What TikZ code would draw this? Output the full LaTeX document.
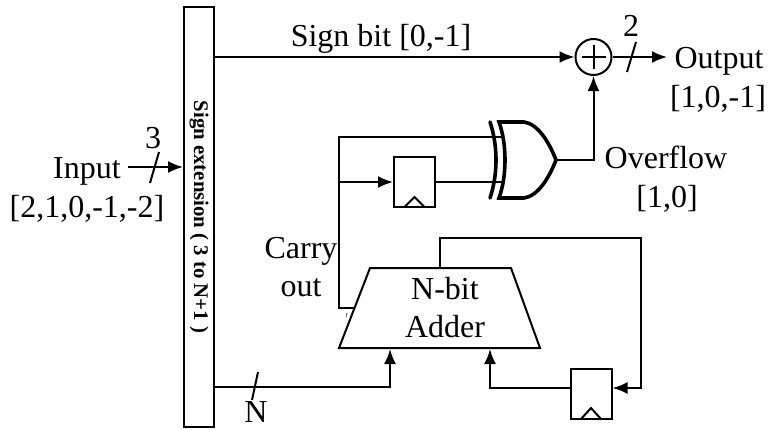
\documentclass[tikz,border=0pt]{standalone}
\usepackage{fontspec}
\setmainfont{Liberation Serif}
\usepackage{tikz}
\usetikzlibrary{arrows.meta}
\usetikzlibrary{calc}
\usetikzlibrary{positioning}

\begin{document}
\begin{tikzpicture}[
	x=1pt, y=-1pt, line width=2pt,
	every node/.style={font=\fontsize{32}{32}\selectfont, inner sep=0pt},
	txt/.style = {anchor=base},
  > = {Latex[length=15pt,width=12pt]},
  reg/.style = {draw,rectangle,minimum width=41pt,minimum height=50pt},
  sum/.style = {draw,circle,minimum size=36pt},
  thick gate/.style = {line width=3.6pt},
  slash/.style = {line width=2pt}
  ]
	\useasboundingbox (0,0) rectangle (770,429);

	\node[draw,minimum width=30pt,minimum height=420pt] (@bar) at (199,217) {};
	\node[rotate=-90,font=\fontsize{20.8}{20.8}\selectfont\bfseries] (@ext) at (199,217) {Sign extension ( 3 to N+1 )};

	\node[sum] (@sum) at (593.5,57) {};
	\draw ($(@sum.center)+(-12,0)$) -- ($(@sum.center)+(12,0)$);
	\draw ($(@sum.center)+(0,-12)$) -- ($(@sum.center)+(0,12)$);

	\node[reg] (@regA) at (414.5,182) {};
	\draw (404.5,207) -- (414.5,197) -- (424.5,207);
	\node[reg] (@regB) at (591,393.5) {};
	\draw (581,419) -- (591,408) -- (601,419);

	% input side
	\node[txt] (@input) at (87,178) {Input};
	\node[txt] (@inrange) at (87,217) {[2,1,0,-1,-2]};
	\node[txt] (@three) at (153,148) {3};
	\coordinate (@instart) at (128,167);
	\draw[->] (@instart) -- (@instart -| @bar.west);
	\draw[slash] (159,152) -- (150,183);

	% sign bit
	\coordinate (@signout) at (@bar.east |- @sum.west);
	\node[txt] (@signbit) at (381,46) {Sign bit [0,-1]};
	\draw[->] (@signout) -- (@sum.west);

	% output
	\coordinate (@outend) at (667,57);
	\node[txt] (@output) at (719,68) {Output};
	\node[txt] (@outrange) at (718,107) {[1,0,-1]};
	\node[txt] (@two) at (631,36) {2};
	\draw[->] (@sum.east) -- (@outend);
	\draw[slash] (636,42) -- (627,72);

	% xor
	\coordinate (@x1) at (499,122);
	\coordinate (@x2) at (556,160);
	\coordinate (@x3) at (499,198);
	\draw[thick gate,line join=miter] (@x1) -- (524,122) .. controls (538,124) and (549,142) .. (@x2)
		.. controls (549,178) and (538,196) .. (524,198) -- (@x3)
		.. controls (507,176) and (507,144) .. cycle;
	\draw[thick gate,line cap=round] (490,122) .. controls (498,146) and (498,174) .. (490,198);
	\node[txt] (@overflow) at (666,168) {Overflow};
	\node[txt] (@ovrange) at (667,207) {[1,0]};
	\draw[->] (@x2) -| (@sum.south);

	% carry
	\coordinate (@carry) at (355,308);
	\coordinate (@tap) at (339,182);
	\coordinate (@gate1) at (503,137);
	\draw (@carry) -| (@tap) |- (@gate1);
	\draw[->] (@tap) -- (@regA.west);
	\draw (@regA.east) -- (502,182);
	\node[txt] (@carrytxt) at (301,258) {Carry};
	\node[txt] (@outtxt) at (301,296) {out};
	\node[font=\fontsize{6}{6}\selectfont] (@f) at (346.5,315) {f};

	% adder
	\draw[line join=miter] (370,268) -- (511,268) -- (540,348) -- (339,348) -- cycle;
	\node[txt] (@nbit) at (445,299) {N-bit};
	\node[txt] (@adder) at (445,337) {Adder};
	\coordinate (@addtop) at (440,268);
	\coordinate (@corner) at (641,238);
	\coordinate (@addA) at (390,349);
	\coordinate (@addB) at (490,349);
	\draw[->] (@addtop) |- (@corner) |- (@regB.east |- 0,388);
	\draw[->] (@regB.west |- 0,388) -| (@addB);
	\draw[->] (@bar.east |- 0,387) -| (@addA);
	\draw[slash] (258,372) -- (252,400);
	\node[txt] (@n) at (256,422) {N};

\end{tikzpicture}
\end{document}
